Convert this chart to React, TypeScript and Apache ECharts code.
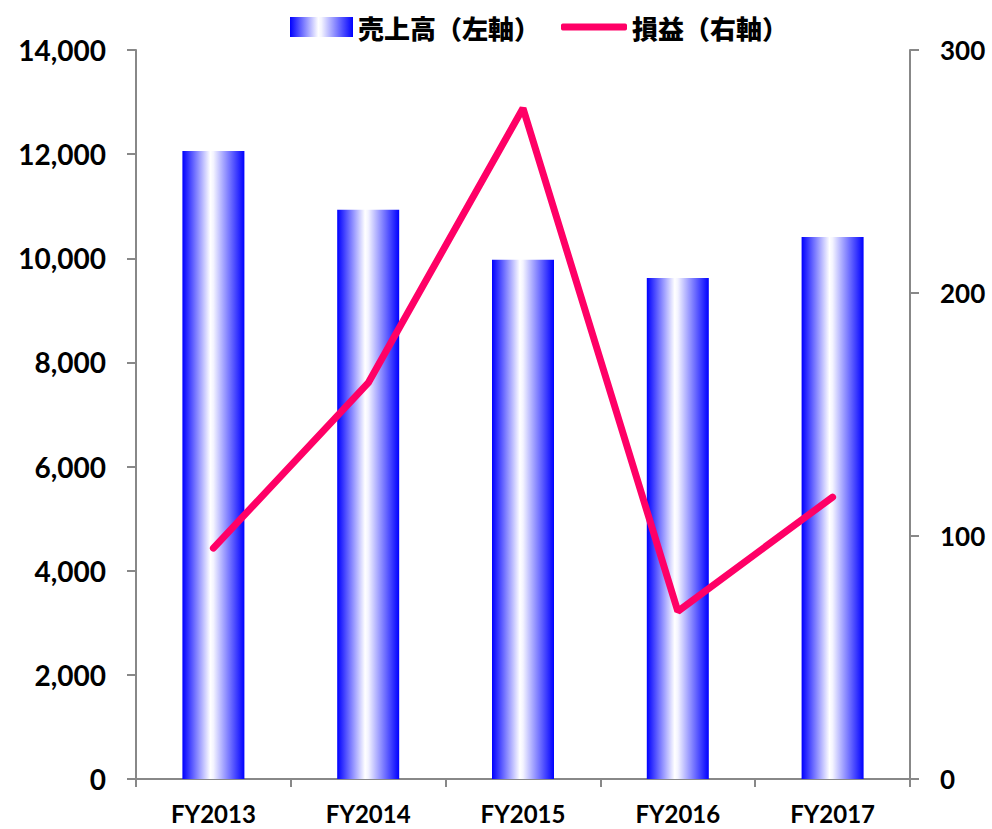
import React, { useEffect, useRef } from "react";
import * as echarts from "echarts";

const categories = ["FY2013", "FY2014", "FY2015", "FY2016", "FY2017"];
const salesValues = [12060, 10930, 9970, 9620, 10410];
const profitValues = [95, 163, 276, 69, 116];
const leftTicks = { min: 0, max: 14000, interval: 2000 };
const rightTicks = { min: 0, max: 300, interval: 100 };
const salesName = "売上高（左軸）";
const profitName = "損益（右軸）";

const numFont = 'Lato, "Noto Sans CJK JP", sans-serif';
const jpFont = '"Noto Sans CJK JP", sans-serif';
const axisGray = "#888888";

export default function App() {
  const ref = useRef<HTMLDivElement>(null);
  useEffect(() => {
    if (!ref.current) return;
    const chart = echarts.init(ref.current, undefined, { renderer: "svg" });
    const grad = new echarts.graphic.LinearGradient(0, 0, 1, 0, [
      { offset: 0, color: "#0000FF" },
      { offset: 0.45, color: "#FFFFFF" },
      { offset: 0.5, color: "#F4F4FF" },
      { offset: 1, color: "#0000FF" },
    ]);
    const legendText = { fontFamily: jpFont, fontWeight: 900, fontSize: 26, color: "#000" };
    chart.setOption({
      animation: false,
      backgroundColor: "#ffffff",
      grid: { left: 136, right: 82, top: 50, bottom: 50, containLabel: false },
      legend: [
        {
          data: [{ name: salesName, icon: "rect" }],
          left: 285,
          top: 9,
          itemWidth: 63,
          itemHeight: 20,
          textStyle: legendText,
        },
        {
          data: [{ name: profitName, icon: "roundRect" }],
          left: 556,
          top: 9,
          itemWidth: 66,
          itemHeight: 7,
          textStyle: legendText,
        },
      ],
      xAxis: {
        type: "category",
        data: categories,
        axisLine: { lineStyle: { color: axisGray, width: 2 } },
        axisTick: { show: true, length: 8, lineStyle: { color: axisGray, width: 2 } },
        axisLabel: { fontFamily: numFont, fontWeight: "bold", fontSize: 24, color: "#000", margin: 22 },
        splitLine: { show: false },
      },
      yAxis: [
        {
          type: "value",
          min: leftTicks.min,
          max: leftTicks.max,
          interval: leftTicks.interval,
          axisLine: { show: true, lineStyle: { color: axisGray, width: 2 } },
          axisTick: { show: true, length: 9, lineStyle: { color: axisGray, width: 2 } },
          axisLabel: {
            fontFamily: numFont,
            fontWeight: "bold",
            fontSize: 28,
            color: "#000",
            margin: 30,
            formatter: (v: number) => v.toLocaleString("en-US"),
          },
          splitLine: { show: false },
        },
        {
          type: "value",
          position: "right",
          min: rightTicks.min,
          max: rightTicks.max,
          interval: rightTicks.interval,
          axisLine: { show: true, lineStyle: { color: axisGray, width: 2 } },
          axisTick: { show: true, length: 9, lineStyle: { color: axisGray, width: 2 } },
          axisLabel: { fontFamily: numFont, fontWeight: "bold", fontSize: 26, color: "#000", margin: 30 },
          splitLine: { show: false },
        },
      ],
      series: [
        {
          name: salesName,
          type: "bar",
          data: salesValues,
          yAxisIndex: 0,
          barWidth: 62,
          itemStyle: { color: grad },
        },
        {
          name: profitName,
          type: "line",
          data: profitValues,
          yAxisIndex: 1,
          symbol: "none",
          itemStyle: { color: "#FF0066" },
          lineStyle: { color: "#FF0066", width: 7, cap: "round" },
        },
      ],
    });
    return () => chart.dispose();
  }, []);
  return (
    <div
      ref={ref}
      style={{ position: "absolute", left: 0, top: 0, width: 992, height: 829 }}
    />
  );
}
